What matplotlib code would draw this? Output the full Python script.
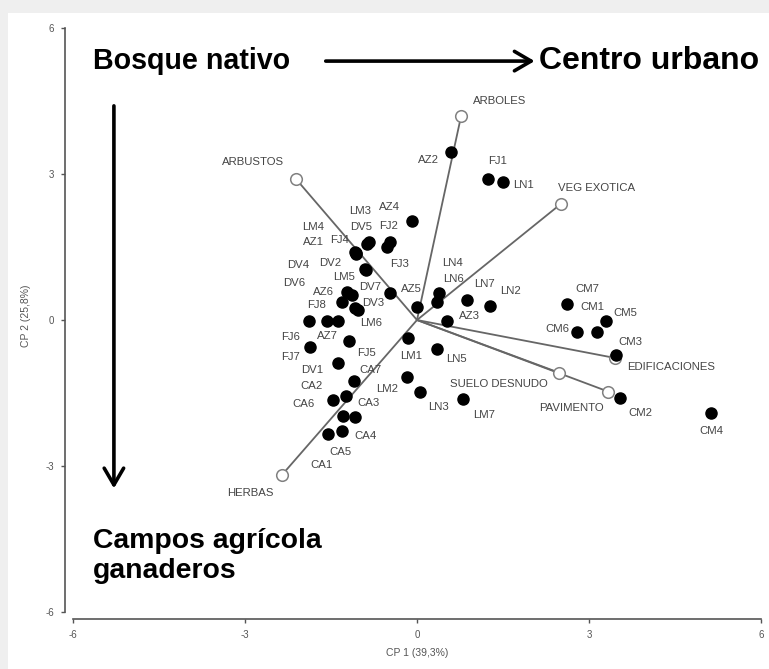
import matplotlib
matplotlib.use("Agg")
import matplotlib.pyplot as plt
from matplotlib.patches import Rectangle

plt.rcParams['font.family'] = ['Liberation Sans', 'DejaVu Sans']
plt.rcParams['axes.unicode_minus'] = False

# sitios (scores)
sites = ['AZ1', 'AZ2', 'AZ3', 'AZ4', 'AZ5', 'AZ6', 'AZ7',
         'CA1', 'CA2', 'CA3', 'CA4', 'CA5', 'CA6', 'CA7',
         'CM1', 'CM2', 'CM3', 'CM4', 'CM5', 'CM6', 'CM7',
         'DV1', 'DV2', 'DV3', 'DV4', 'DV5', 'DV6', 'DV7',
         'FJ1', 'FJ2', 'FJ3', 'FJ4', 'FJ5', 'FJ6', 'FJ7', 'FJ8',
         'LM1', 'LM2', 'LM3', 'LM4', 'LM5', 'LM6', 'LM7',
         'LN1', 'LN2', 'LN3', 'LN4', 'LN5', 'LN6', 'LN7']
cp1 = [-1.06, 0.60, 0.53, -0.09, 0.00, -1.14, -1.37,
       -1.55, -1.24, -1.08, -1.30, -1.29, -1.46, -1.09,
       3.14, 3.54, 3.46, 5.12, 3.29, 2.78, 2.61,
       -1.37, -0.90, -1.08, -0.89, -0.87, -1.30, -0.47,
       1.24, -0.47, -0.53, -1.08, -1.18, -1.89, -1.86, -1.57,
       -0.15, -0.18, -0.84, -1.07, -1.22, -1.02, 0.81,
       1.49, 1.28, 0.05, 0.39, 0.34, 0.35, 0.87]
cp2 = [1.36, 3.45, -0.03, 2.03, 0.27, 0.51, -0.01,
       -2.34, -1.56, -2.00, -2.29, -1.97, -1.64, -1.25,
       -0.24, -1.61, -0.72, -1.92, -0.01, -0.24, 0.32,
       -0.88, 1.05, 0.24, 1.03, 1.57, 0.38, 0.55,
       2.89, 1.61, 1.51, 1.39, -0.43, -0.03, -0.56, -0.01,
       -0.37, -1.18, 1.60, 1.38, 0.58, 0.21, -1.62,
       2.84, 0.29, -1.47, 0.55, -0.60, 0.38, 0.41]

# variables (loadings)
variables = ['ARBOLES', 'ARBUSTOS', 'VEG EXOTICA', 'HERBAS',
             'SUELO DESNUDO', 'PAVIMENTO', 'EDIFICACIONES']
var_x = [0.77, -2.11, 2.50, -2.35, 2.47, 3.33, 3.45]
var_y = [4.20, 2.90, 2.38, -3.18, -1.08, -1.47, -0.78]

# label offsets in pixels (layout only)
site_off = {
    'AZ1': (-43, 12), 'AZ2': (-23, -8), 'AZ3': (22, 5), 'AZ4': (-22, 14),
    'AZ5': (-6, 18), 'AZ6': (-28, 3), 'AZ7': (-11, -15),
    'CA1': (-7, -31), 'CA2': (-34, 10), 'CA3': (13, 14), 'CA4': (23, -5),
    'CA5': (-3, -36), 'CA6': (-30, -4), 'CA7': (16, 11),
    'CM1': (-5, 25), 'CM2': (20, -15), 'CM3': (15, 13), 'CM4': (0, -18),
    'CM5': (19, 8), 'CM6': (-19, 3), 'CM7': (21, 15),
    'DV1': (-26, -7), 'DV2': (-35, 6), 'DV3': (18, 5), 'DV4': (-68, 5),
    'DV5': (-6, 17), 'DV6': (-48, 19), 'DV7': (-20, 6),
    'FJ1': (9, 18), 'FJ2': (-1, 16), 'FJ3': (13, -17), 'FJ4': (-15, 12),
    'FJ5': (17, -12), 'FJ6': (-18, -16), 'FJ7': (-20, -10), 'FJ8': (-10, 16),
    'LM1': (3, -18), 'LM2': (-20, -12), 'LM3': (-9, 31), 'LM4': (-42, 26),
    'LM5': (-3, 15), 'LM6': (13, -13), 'LM7': (21, -16),
    'LN1': (21, -3), 'LN2': (20, 15), 'LN3': (19, -15), 'LN4': (13, 30),
    'LN5': (20, -10), 'LN6': (16, 23), 'LN7': (18, 16)}
var_off = [(38, 15), (-43, 17), (36, 16), (-32, -18), (-60, -11), (-37, -16), (56, -9)]

fig = plt.figure(figsize=(7.69, 6.69), dpi=100, facecolor='#efefef')
fig.patches.append(Rectangle((8 / 769, 0), 1, (669 - 13) / 669, transform=fig.transFigure,
                             facecolor='white', edgecolor='none', zorder=-1))
ax = fig.add_axes([65 / 769, 50 / 669, 704 / 769, 606 / 669])
ax.set_facecolor('white')

lab_col = '#444444'
line_col = '#666666'

for i in range(len(variables)):
    ax.plot([0, var_x[i]], [0, var_y[i]], color=line_col, lw=1.3, zorder=2)
ax.scatter(var_x, var_y, s=70, facecolors='white', edgecolors='#808080', linewidths=1.1, zorder=3)
for i in range(len(variables)):
    ax.annotate(variables[i], (var_x[i], var_y[i]), xytext=var_off[i], textcoords='offset pixels',
                ha='center', va='center', fontsize=8.2, color=lab_col)

ax.scatter(cp1, cp2, s=64, color='black', zorder=4)
for i in range(len(sites)):
    ax.annotate(sites[i], (cp1[i], cp2[i]), xytext=site_off[sites[i]], textcoords='offset pixels',
                ha='center', va='center', fontsize=8.2, color=lab_col)

# ejes estilo R
ax.set_xlim(-6.132, 6.132)
ax.set_ylim(-6.143, 6.308)
ax.spines['top'].set_visible(False)
ax.spines['right'].set_visible(False)
ax.spines['left'].set_bounds(-6, 6)
ax.spines['bottom'].set_bounds(-6, 6)
for s in ['left', 'bottom']:
    ax.spines[s].set_color('#555555')
    ax.spines[s].set_linewidth(1.2)
ax.set_xticks([-6, -3, 0, 3, 6])
ax.set_yticks([-6, -3, 0, 3, 6])
ax.tick_params(length=3, width=1, color='#555555', labelsize=7, labelcolor='#555555', pad=5)
ax.set_xlabel('CP 1 (39,3%)', fontsize=7.5, color='#555555', labelpad=6)
ax.set_ylabel('CP 2 (25,8%)', fontsize=7.5, color='#555555', labelpad=10)

# gradientes
arrow = dict(arrowstyle='->,head_length=0.6,head_width=0.35', lw=2.6, color='black', mutation_scale=20,
             shrinkA=0, shrinkB=0)
ax.annotate('', xy=(2.05, 5.32), xytext=(-1.59, 5.32), arrowprops=arrow)
ax.annotate('', xy=(-5.28, -3.46), xytext=(-5.28, 4.40), arrowprops=arrow)
ax.text(-5.64, 5.32, 'Bosque nativo', fontsize=20.6, fontweight='bold', ha='left', va='center')
ax.text(2.12, 5.32, 'Centro urbano', fontsize=23, fontweight='bold', ha='left', va='center')
ax.text(-5.65, -4.84, 'Campos agrícola\nganaderos', fontsize=20.4, fontweight='bold', ha='left',
        va='center', linespacing=1.2)

plt.savefig('out.png', dpi=100, facecolor=fig.get_facecolor())
